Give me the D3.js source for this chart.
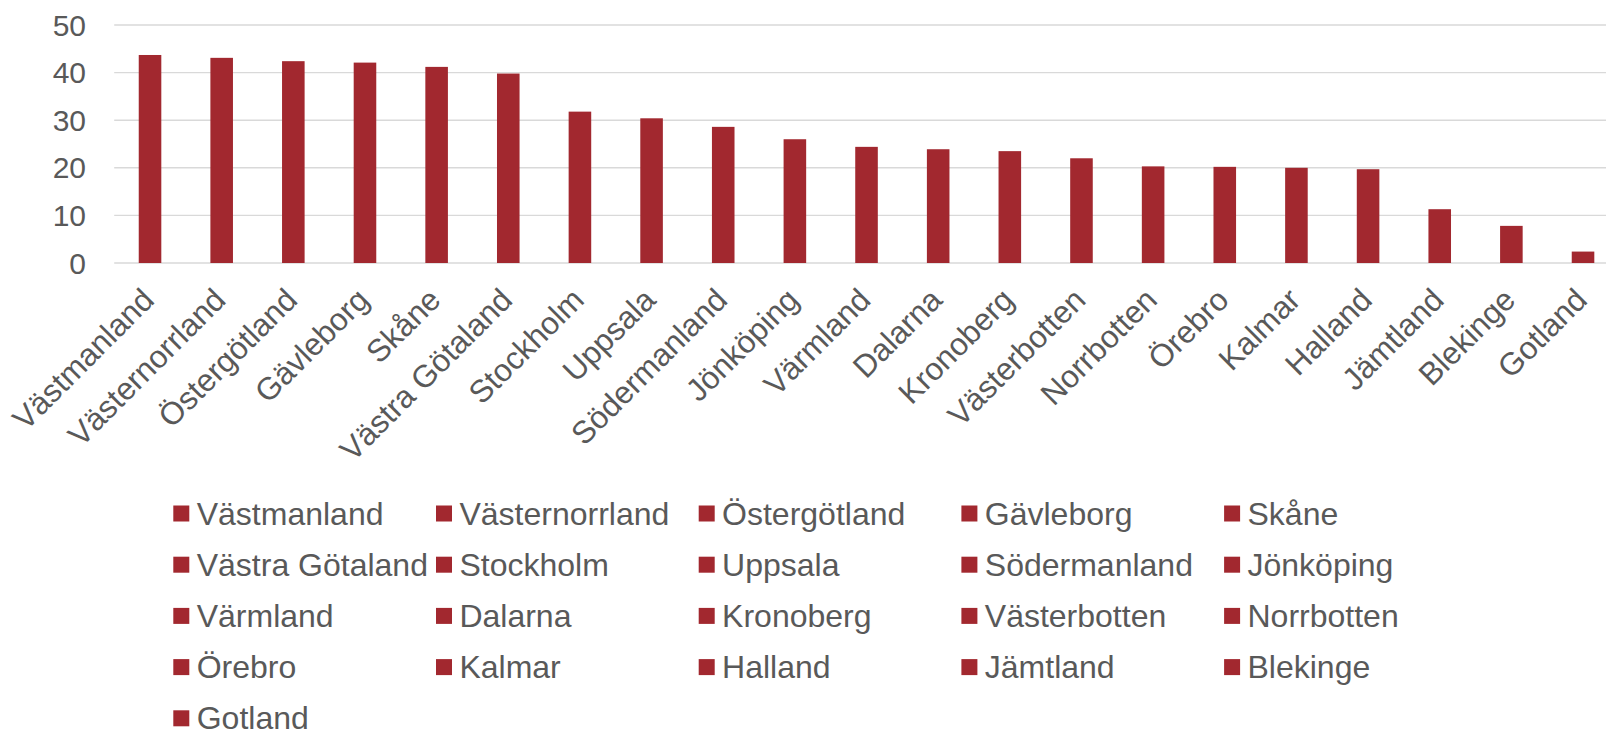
<!DOCTYPE html>
<html lang="sv">
<head>
  <meta charset="utf-8">
  <title>Län</title>
  <script src="https://d3js.org/d3.v7.min.js"></script>
  <style>
    body { margin: 0; background: #fff; }
    text { font-family: "Liberation Sans", Arial, sans-serif; fill: #595959; }
    .grid line { stroke: #d9d9d9; stroke-width: 1.4; }
  </style>
</head>
<body>
<svg width="1606" height="731"></svg>
<script>
// data
var regions = ["Västmanland", "Västernorrland", "Östergötland", "Gävleborg", "Skåne",
  "Västra Götaland", "Stockholm", "Uppsala", "Södermanland", "Jönköping", "Värmland",
  "Dalarna", "Kronoberg", "Västerbotten", "Norrbotten", "Örebro", "Kalmar", "Halland",
  "Jämtland", "Blekinge", "Gotland"];
var values = [43.7, 43.1, 42.4, 42.1, 41.2, 39.8, 31.8, 30.4, 28.6, 26.0, 24.4,
  23.9, 23.5, 22.0, 20.3, 20.2, 20.0, 19.7, 11.3, 7.8, 2.4];
var yTicks = [0, 10, 20, 30, 40, 50];

var barColor = "#a2282f";

var svg = d3.select("svg"),
    width = +svg.attr("width");

var left = 114.2, step = 71.65;
var x = d3.scaleBand()
    .domain(regions)
    .range([left, left + step * regions.length])
    .paddingInner(0.685)
    .paddingOuter(0.3425);

var y = d3.scaleLinear()
    .domain([0, 50])
    .range([263, 25]);

// gridlines
svg.append("g")
    .attr("class", "grid")
    .selectAll("line")
    .data(yTicks)
    .enter().append("line")
      .attr("x1", left)
      .attr("x2", width)
      .attr("y1", function(d) { return y(d); })
      .attr("y2", function(d) { return y(d); });

// y labels
svg.append("g")
    .selectAll("text")
    .data(yTicks)
    .enter().append("text")
      .attr("x", 86)
      .attr("y", function(d) { return y(d); })
      .attr("dy", "0.35em")
      .attr("text-anchor", "end")
      .style("font-size", "30px")
      .text(function(d) { return d; });

// bars
svg.append("g")
    .selectAll("rect")
    .data(regions)
    .enter().append("rect")
      .attr("x", function(d) { return x(d); })
      .attr("width", x.bandwidth())
      .attr("y", function(d, i) { return y(values[i]); })
      .attr("height", function(d, i) { return y(0) - y(values[i]); })
      .attr("fill", barColor);

// x labels, rotated
svg.append("g")
    .selectAll("text")
    .data(regions)
    .enter().append("text")
      .attr("transform", function(d) {
        return "translate(" + (x(d) + x.bandwidth() / 2 - 2) + ",294) rotate(-45)";
      })
      .attr("dy", "0.35em")
      .attr("text-anchor", "end")
      .style("font-size", "31.5px")
      .text(function(d) { return d; });

// legend, 5 columns
var legend = svg.append("g")
    .selectAll("g")
    .data(regions)
    .enter().append("g")
      .attr("transform", function(d, i) {
        var col = i % 5, row = Math.floor(i / 5);
        return "translate(" + (173.3 + col * 262.7) + "," + (513.5 + row * 51.2) + ")";
      });

legend.append("rect")
    .attr("x", 0)
    .attr("y", -8)
    .attr("width", 16)
    .attr("height", 16)
    .attr("fill", barColor);

legend.append("text")
    .attr("x", 23.4)
    .attr("y", 11)
    .style("font-size", "32px")
    .text(function(d) { return d; });
</script>
</body>
</html>
